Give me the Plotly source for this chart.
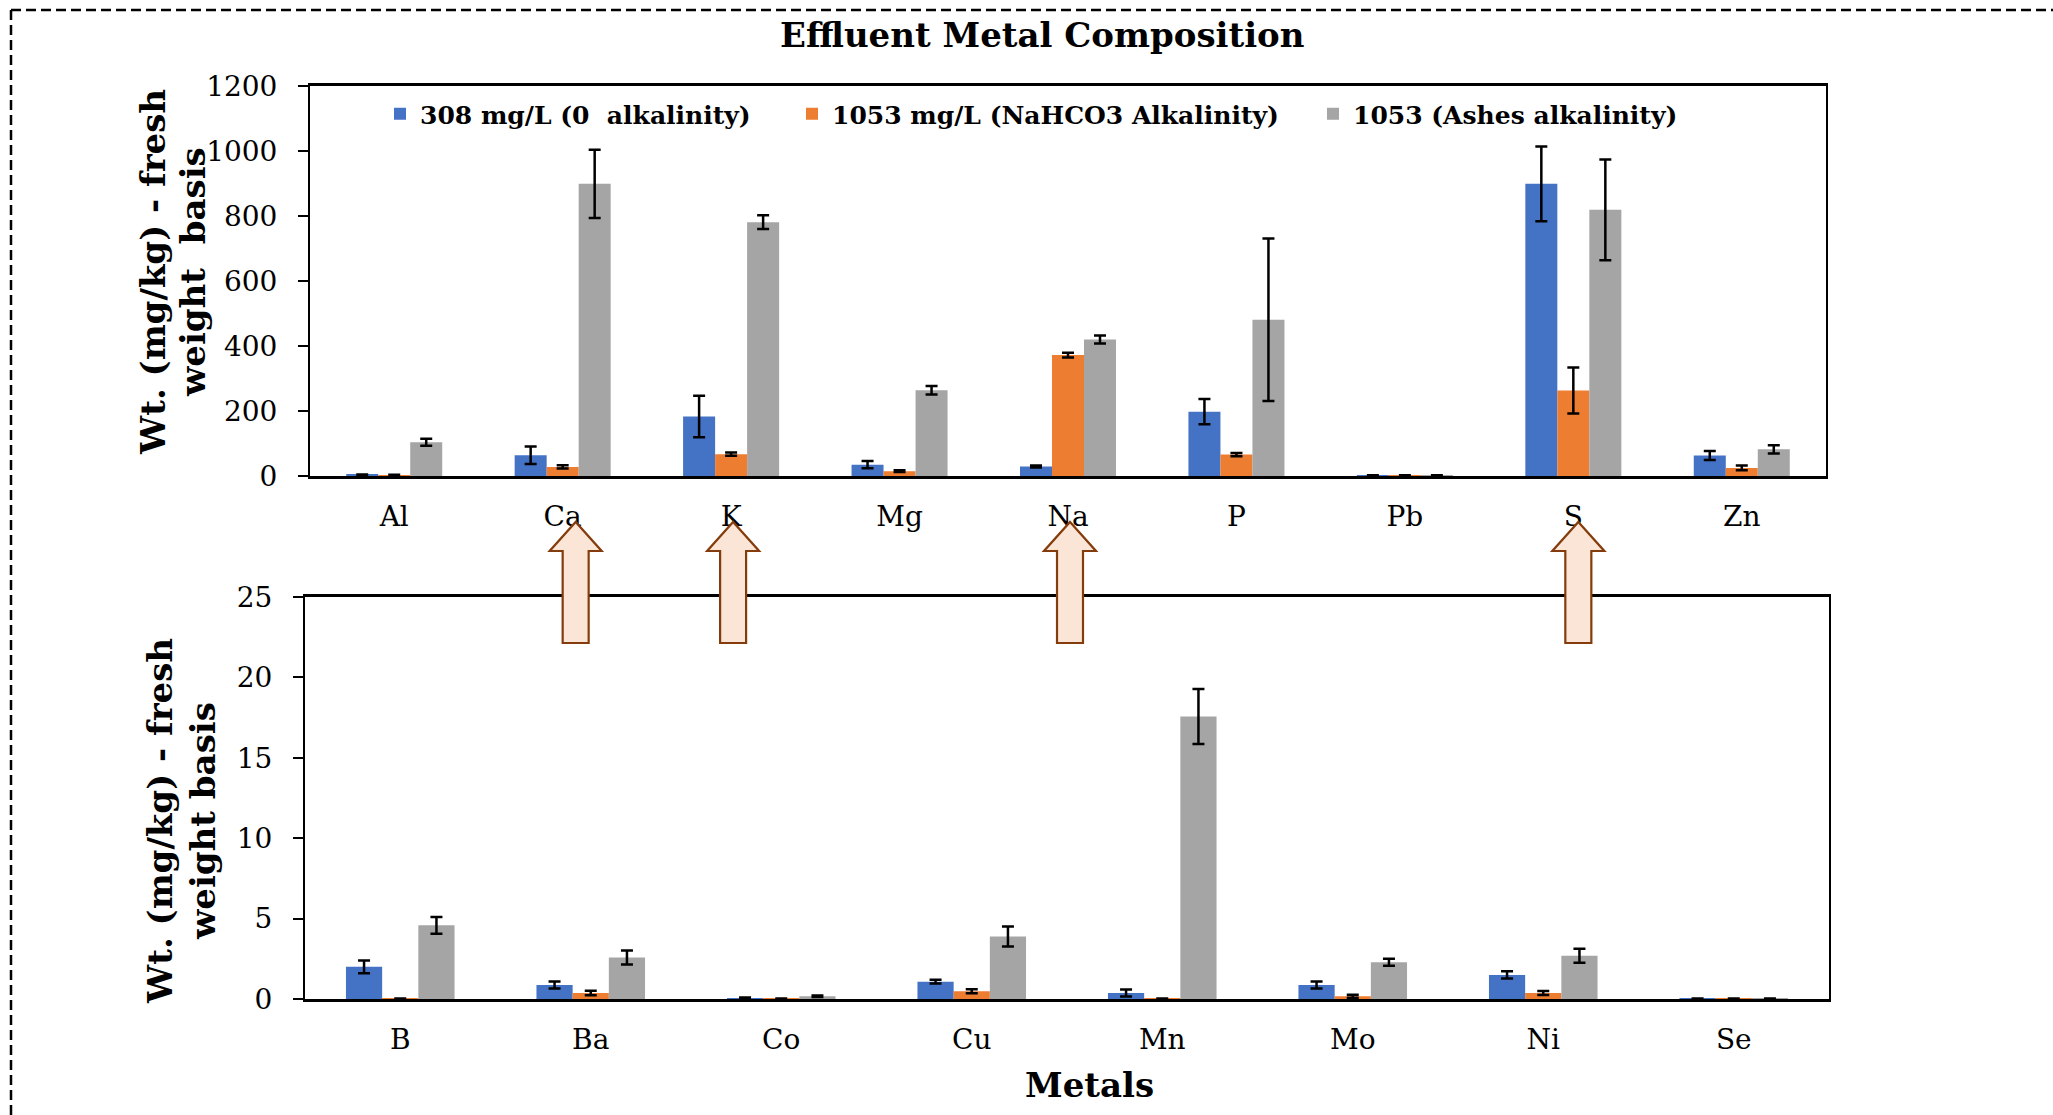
import plotly.graph_objects as go

W, H = 2053, 1115

# ---------------- data ----------------
series_names = ["308 mg/L (0 \u00a0alkalinity)", "1053 mg/L (NaHCO3 Alkalinity)", "1053 (Ashes alkalinity)"]
series_colors = ["#4472C4", "#ED7D31", "#A5A5A5"]

top_metals = ["Al", "Ca", "K", "Mg", "Na", "P", "Pb", "S", "Zn"]
top_blue = [4, 64, 183, 35, 29, 198, 2, 899, 63]
top_blue_err = [1, 27, 64, 11, 3, 39, None, 115, 14]
top_orange = [3, 28, 67, 15, 372, 66, 2, 263, 25]
top_orange_err = [1, 5, 5, 3, 7, 5, None, 71, 7]
top_gray = [104, 899, 781, 264, 420, 481, 2, 819, 82]
top_gray_err = [11, 105, 21, 13, 12, 250, None, 155, 13]

bot_metals = ["B", "Ba", "Co", "Cu", "Mn", "Mo", "Ni", "Se"]
bot_blue = [2.00, 0.87, 0.06, 1.08, 0.37, 0.87, 1.50, 0.02]
bot_blue_err = [0.40, 0.22, 0.03, 0.12, 0.22, 0.22, 0.22, 0.01]
bot_orange = [0.02, 0.37, 0.02, 0.48, 0.02, 0.17, 0.37, 0.02]
bot_orange_err = [0.01, 0.14, 0.01, 0.12, 0.01, 0.10, 0.12, 0.01]
bot_gray = [4.58, 2.58, 0.17, 3.89, 17.57, 2.29, 2.69, 0.02]
bot_gray_err = [0.52, 0.43, 0.05, 0.62, 1.71, 0.22, 0.43, 0.01]

top_ticks = [0, 200, 400, 600, 800, 1000, 1200]
bot_ticks = [0, 5, 10, 15, 20, 25]

title_text = "Effluent Metal Composition"
xaxis_title = "Metals"
top_ytitle = ["Wt. (mg/kg) - fresh", "weight \u00a0basis"]
bot_ytitle = ["Wt. (mg/kg) - fresh", "weight basis"]

arrow_targets = ["Ca", "K", "Na", "S"]
arrow_dx = [13, 2, 2, 5]  # small horizontal offsets (px) from the category centre

# ---------------- layout geometry ----------------
top_px = dict(x0=310, x1=1826, y0=86, y1=476)
bot_px = dict(x0=305, x1=1829, y0=597, y1=999)

def xdom(p):
    return [p["x0"] / W, p["x1"] / W]

def ydom(p):
    return [1 - p["y1"] / H, 1 - p["y0"] / H]

SERIF = "DejaVu Serif"
fig = go.Figure()

top_vals = [top_blue, top_orange, top_gray]
top_errs = [top_blue_err, top_orange_err, top_gray_err]
bot_vals = [bot_blue, bot_orange, bot_gray]
bot_errs = [bot_blue_err, bot_orange_err, bot_gray_err]
legend_ids = ["legend", "legend2", "legend3"]

for i in range(3):
    fig.add_trace(go.Bar(
        x=top_metals, y=top_vals[i], name=series_names[i],
        marker=dict(color=series_colors[i], line=dict(width=0)),
        error_y=dict(type="data", array=top_errs[i], color="black", thickness=2.5, width=6),
        xaxis="x", yaxis="y", legend=legend_ids[i], showlegend=True,
    ))
for i in range(3):
    fig.add_trace(go.Bar(
        x=bot_metals, y=bot_vals[i], name=series_names[i],
        marker=dict(color=series_colors[i], line=dict(width=0)),
        error_y=dict(type="data", array=bot_errs[i], color="black", thickness=2.5, width=6),
        xaxis="x2", yaxis="y2", showlegend=False,
    ))

axis_common = dict(showline=True, linecolor="black", mirror=True, showgrid=False, zeroline=False,
                   automargin=False)
tickfont = dict(family=SERIF, size=28, color="black")

legend_common = dict(orientation="h", xanchor="left", yanchor="middle", bgcolor="rgba(0,0,0,0)",
                     font=dict(family=SERIF, size=25, color="black", weight="bold"),
                     borderwidth=0, itemwidth=30)
legend_y = 1 - 114 / H

fig.update_layout(
    width=W, height=H,
    margin=dict(l=0, r=0, t=0, b=0, autoexpand=False),
    paper_bgcolor="white", plot_bgcolor="white",
    barmode="group", bargap=0.43, bargroupgap=0,
    xaxis=dict(domain=xdom(top_px), anchor="y", type="category", tickfont=tickfont,
               ticks="", ticklabelstandoff=13, linewidth=2.8, **axis_common),
    yaxis=dict(domain=ydom(top_px), anchor="x", range=[0, 1200], tickvals=top_ticks,
               ticks="outside", ticklen=10, tickwidth=1.5, tickcolor="black",
               tickfont=tickfont, ticklabelstandoff=15, linewidth=2, **axis_common),
    xaxis2=dict(domain=xdom(bot_px), anchor="y2", type="category", tickfont=tickfont,
                ticks="", ticklabelstandoff=13, linewidth=2.8, **axis_common),
    yaxis2=dict(domain=ydom(bot_px), anchor="x2", range=[0, 25], tickvals=bot_ticks,
                ticks="outside", ticklen=10, tickwidth=1.5, tickcolor="black",
                tickfont=tickfont, ticklabelstandoff=15, linewidth=2, **axis_common),
    legend=dict(x=380 / W, y=legend_y, **legend_common),
    legend2=dict(x=792 / W, y=legend_y, **legend_common),
    legend3=dict(x=1313 / W, y=legend_y, **legend_common),
    showlegend=True,
)

ann_common = dict(xref="paper", yref="paper", showarrow=False, xanchor="center", yanchor="middle")
# titles
fig.add_annotation(text=f"<b>{title_text}</b>", x=1042 / W, y=1 - 35 / H,
                   font=dict(family=SERIF, size=34, color="black"), **ann_common)
fig.add_annotation(text=f"<b>{xaxis_title}</b>", x=1089 / W, y=1 - 1085 / H,
                   font=dict(family=SERIF, size=34, color="black"), **ann_common)
# y-axis titles: two rotated lines each
for line, xc in zip(top_ytitle, [153, 193]):
    fig.add_annotation(text=f"<b>{line}</b>", x=xc / W, y=1 - 272 / H, textangle=-90,
                       font=dict(family=SERIF, size=34, color="black"), **ann_common)
for line, xc in zip(bot_ytitle, [160, 203]):
    fig.add_annotation(text=f"<b>{line}</b>", x=xc / W, y=1 - 821 / H, textangle=-90,
                       font=dict(family=SERIF, size=34, color="black"), **ann_common)

# dashed page border
fig.add_shape(type="line", xref="paper", yref="paper", x0=11 / W, x1=1, y0=1 - 10 / H, y1=1 - 10 / H,
              line=dict(color="black", width=2.5, dash="10px,5px"))
fig.add_shape(type="line", xref="paper", yref="paper", x0=11 / W, x1=11 / W, y0=1 - 10 / H, y1=0,
              line=dict(color="black", width=2.5, dash="10px,5px"))

# block arrows pointing from lower panel to the major-element labels
catw = (top_px["x1"] - top_px["x0"]) / len(top_metals)
tip_y, head_y, base_y = 522, 551, 643
shaft_hw, head_hw = 13, 26
for name, dx in zip(arrow_targets, arrow_dx):
    idx = top_metals.index(name)
    cx = top_px["x0"] + (idx + 0.5) * catw + dx
    pts = [(cx - shaft_hw, base_y), (cx - shaft_hw, head_y), (cx - head_hw, head_y), (cx, tip_y),
           (cx + head_hw, head_y), (cx + shaft_hw, head_y), (cx + shaft_hw, base_y)]
    path = "M " + " L ".join(f"{px / W:.5f},{1 - py / H:.5f}" for px, py in pts) + " Z"
    fig.add_shape(type="path", xref="paper", yref="paper", path=path,
                  fillcolor="#FBE5D6", line=dict(color="#843C0C", width=2.2), layer="above")

fig.write_html("out.html", config={"displayModeBar": False},
               post_script="document.body.style.margin='0';")
